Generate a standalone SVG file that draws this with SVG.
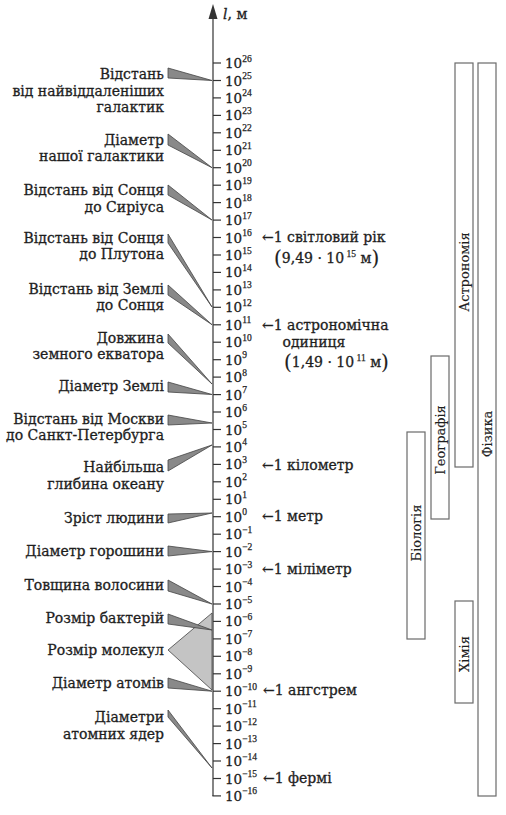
<svg xmlns="http://www.w3.org/2000/svg" width="506" height="815" viewBox="0 0 506 815">
<style>
text{font-family:"DejaVu Serif","Liberation Serif",serif;fill:#1e1e1e;stroke:#1e1e1e;stroke-width:0.3;font-size:14px}
.lb{text-anchor:end}
.t{font-size:13.5px}
.s{font-family:"Liberation Serif",serif;font-size:9.5px;stroke-width:0.25}
.w{fill:#898989;stroke:#444;stroke-width:0.8;stroke-linejoin:round}
.wl{fill:#c4c4c4;stroke:#444;stroke-width:0.8;stroke-linejoin:round}
.tk{stroke:#333;stroke-width:1.2}
.bar{fill:#fff;stroke:#6a6a6a;stroke-width:1.2}
.bt{font-size:13px;text-anchor:middle;stroke-width:0.15}
.par{font-size:20px;stroke-width:0.15}
</style>
<rect width="506" height="815" fill="#fff"/>
<g id="axis">
<line class="tk" x1="213" y1="17" x2="213" y2="796"/>
<polygon points="213,4 208.5,19 217.5,19" fill="#333"/>
<text x="223" y="19"><tspan font-style="italic">l</tspan>, м</text>
<g class="tk">
<line x1="213" y1="63" x2="221" y2="63"/><line x1="213" y1="80.5" x2="221" y2="80.5"/><line x1="213" y1="97.9" x2="221" y2="97.9"/><line x1="213" y1="115.4" x2="221" y2="115.4"/><line x1="213" y1="132.8" x2="221" y2="132.8"/><line x1="213" y1="150.3" x2="221" y2="150.3"/><line x1="213" y1="167.7" x2="221" y2="167.7"/><line x1="213" y1="185.2" x2="221" y2="185.2"/><line x1="213" y1="202.6" x2="221" y2="202.6"/><line x1="213" y1="220.1" x2="221" y2="220.1"/><line x1="213" y1="237.5" x2="221" y2="237.5"/><line x1="213" y1="255" x2="221" y2="255"/><line x1="213" y1="272.4" x2="221" y2="272.4"/><line x1="213" y1="289.9" x2="221" y2="289.9"/><line x1="213" y1="307.3" x2="221" y2="307.3"/><line x1="213" y1="324.8" x2="221" y2="324.8"/><line x1="213" y1="342.2" x2="221" y2="342.2"/><line x1="213" y1="359.7" x2="221" y2="359.7"/><line x1="213" y1="377.1" x2="221" y2="377.1"/><line x1="213" y1="394.6" x2="221" y2="394.6"/><line x1="213" y1="412" x2="221" y2="412"/><line x1="213" y1="429.5" x2="221" y2="429.5"/><line x1="213" y1="446.9" x2="221" y2="446.9"/><line x1="213" y1="464.4" x2="221" y2="464.4"/><line x1="213" y1="481.8" x2="221" y2="481.8"/><line x1="213" y1="499.3" x2="221" y2="499.3"/><line x1="213" y1="516.7" x2="221" y2="516.7"/><line x1="213" y1="534.2" x2="221" y2="534.2"/><line x1="213" y1="551.6" x2="221" y2="551.6"/><line x1="213" y1="569.1" x2="221" y2="569.1"/><line x1="213" y1="586.5" x2="221" y2="586.5"/><line x1="213" y1="604" x2="221" y2="604"/><line x1="213" y1="621.4" x2="221" y2="621.4"/><line x1="213" y1="638.9" x2="221" y2="638.9"/><line x1="213" y1="656.3" x2="221" y2="656.3"/><line x1="213" y1="673.8" x2="221" y2="673.8"/><line x1="213" y1="691.2" x2="221" y2="691.2"/><line x1="213" y1="708.7" x2="221" y2="708.7"/><line x1="213" y1="726.1" x2="221" y2="726.1"/><line x1="213" y1="743.6" x2="221" y2="743.6"/><line x1="213" y1="761" x2="221" y2="761"/><line x1="213" y1="778.5" x2="221" y2="778.5"/><line x1="212.4" y1="795.9" x2="221" y2="795.9"/>
</g>
<g id="tick-labels">
<text class="t" x="225" y="68">10<tspan class="s" dy="-6.5">26</tspan></text>
<text class="t" x="225" y="85.5">10<tspan class="s" dy="-6.5">25</tspan></text>
<text class="t" x="225" y="102.9">10<tspan class="s" dy="-6.5">24</tspan></text>
<text class="t" x="225" y="120.4">10<tspan class="s" dy="-6.5">23</tspan></text>
<text class="t" x="225" y="137.8">10<tspan class="s" dy="-6.5">22</tspan></text>
<text class="t" x="225" y="155.3">10<tspan class="s" dy="-6.5">21</tspan></text>
<text class="t" x="225" y="172.7">10<tspan class="s" dy="-6.5">20</tspan></text>
<text class="t" x="225" y="190.2">10<tspan class="s" dy="-6.5">19</tspan></text>
<text class="t" x="225" y="207.6">10<tspan class="s" dy="-6.5">18</tspan></text>
<text class="t" x="225" y="225.1">10<tspan class="s" dy="-6.5">17</tspan></text>
<text class="t" x="225" y="242.5">10<tspan class="s" dy="-6.5">16</tspan></text>
<text class="t" x="225" y="260">10<tspan class="s" dy="-6.5">15</tspan></text>
<text class="t" x="225" y="277.4">10<tspan class="s" dy="-6.5">14</tspan></text>
<text class="t" x="225" y="294.9">10<tspan class="s" dy="-6.5">13</tspan></text>
<text class="t" x="225" y="312.3">10<tspan class="s" dy="-6.5">12</tspan></text>
<text class="t" x="225" y="329.8">10<tspan class="s" dy="-6.5">11</tspan></text>
<text class="t" x="225" y="347.2">10<tspan class="s" dy="-6.5">10</tspan></text>
<text class="t" x="225" y="364.7">10<tspan class="s" dy="-6.5">9</tspan></text>
<text class="t" x="225" y="382.1">10<tspan class="s" dy="-6.5">8</tspan></text>
<text class="t" x="225" y="399.6">10<tspan class="s" dy="-6.5">7</tspan></text>
<text class="t" x="225" y="417">10<tspan class="s" dy="-6.5">6</tspan></text>
<text class="t" x="225" y="434.5">10<tspan class="s" dy="-6.5">5</tspan></text>
<text class="t" x="225" y="451.9">10<tspan class="s" dy="-6.5">4</tspan></text>
<text class="t" x="225" y="469.4">10<tspan class="s" dy="-6.5">3</tspan></text>
<text class="t" x="225" y="486.8">10<tspan class="s" dy="-6.5">2</tspan></text>
<text class="t" x="225" y="504.3">10<tspan class="s" dy="-6.5">1</tspan></text>
<text class="t" x="225" y="521.7">10<tspan class="s" dy="-6.5">0</tspan></text>
<text class="t" x="225" y="539.2">10<tspan class="s" dy="-6.5">−1</tspan></text>
<text class="t" x="225" y="556.6">10<tspan class="s" dy="-6.5">−2</tspan></text>
<text class="t" x="225" y="574.1">10<tspan class="s" dy="-6.5">−3</tspan></text>
<text class="t" x="225" y="591.5">10<tspan class="s" dy="-6.5">−4</tspan></text>
<text class="t" x="225" y="609">10<tspan class="s" dy="-6.5">−5</tspan></text>
<text class="t" x="225" y="626.4">10<tspan class="s" dy="-6.5">−6</tspan></text>
<text class="t" x="225" y="643.9">10<tspan class="s" dy="-6.5">−7</tspan></text>
<text class="t" x="225" y="661.3">10<tspan class="s" dy="-6.5">−8</tspan></text>
<text class="t" x="225" y="678.8">10<tspan class="s" dy="-6.5">−9</tspan></text>
<text class="t" x="225" y="696.2">10<tspan class="s" dy="-6.5">−10</tspan></text>
<text class="t" x="225" y="713.7">10<tspan class="s" dy="-6.5">−11</tspan></text>
<text class="t" x="225" y="731.1">10<tspan class="s" dy="-6.5">−12</tspan></text>
<text class="t" x="225" y="748.6">10<tspan class="s" dy="-6.5">−13</tspan></text>
<text class="t" x="225" y="766">10<tspan class="s" dy="-6.5">−14</tspan></text>
<text class="t" x="225" y="783.5">10<tspan class="s" dy="-6.5">−15</tspan></text>
<text class="t" x="225" y="800.9">10<tspan class="s" dy="-6.5">−16</tspan></text>
</g>
</g>
<g id="connectors">
<polygon class="w" points="168,68 212,80.5 168,78"/>
<polygon class="w" points="168,134 212,167.7 168,145"/>
<polygon class="w" points="168,185 212,220 168,195"/>
<polygon class="w" points="168,234 212,307 168,243"/>
<polygon class="w" points="168,285 212,324.7 168,295"/>
<polygon class="w" points="168,334 212,384 168,343"/>
<polygon class="w" points="168,382 212,394.5 168,392"/>
<polygon class="w" points="168,415 212,423 168,425"/>
<polygon class="w" points="168,460 212,445 168,471"/>
<polygon class="w" points="168,514 212,513 168,523"/>
<polygon class="w" points="168,546 212,551.6 168,556"/>
<polygon class="w" points="168,580 212,604 168,591"/>
<polygon class="wl" points="212,613 168,650 212,690"/>
<polygon class="w" points="168,614 212,630 168,624"/>
<polygon class="w" points="168,678 212,691.2 168,688"/>
<polygon class="w" points="168,710 212,768 168,717"/>
</g>
<g id="far-galaxies"><text class="lb" x="164" y="79">Відстань</text><text class="lb" x="164" y="96">від найвіддаленіших</text><text class="lb" x="164" y="112">галактик</text></g>
<g id="galaxy-diameter"><text class="lb" x="164" y="145">Діаметр</text><text class="lb" x="164" y="161">нашої галактики</text></g>
<g id="sun-sirius"><text class="lb" x="164" y="195">Відстань від Сонця</text><text class="lb" x="164" y="212">до Сиріуса</text></g>
<g id="sun-pluto"><text class="lb" x="164" y="243">Відстань від Сонця</text><text class="lb" x="164" y="259">до Плутона</text></g>
<g id="earth-sun"><text class="lb" x="164" y="294">Відстань від Землі</text><text class="lb" x="164" y="310">до Сонця</text></g>
<g id="equator"><text class="lb" x="164" y="343">Довжина</text><text class="lb" x="164" y="359">земного екватора</text></g>
<g id="earth-diameter"><text class="lb" x="164" y="391">Діаметр Землі</text></g>
<g id="moscow-spb"><text class="lb" x="164" y="424">Відстань від Москви</text><text class="lb" x="164" y="440">до Санкт-Петербурга</text></g>
<g id="ocean-depth"><text class="lb" x="164" y="472">Найбільша</text><text class="lb" x="164" y="489">глибина океану</text></g>
<g id="human-height"><text class="lb" x="164" y="523">Зріст людини</text></g>
<g id="pea"><text class="lb" x="164" y="556">Діаметр горошини</text></g>
<g id="hair"><text class="lb" x="164" y="590">Товщина волосини</text></g>
<g id="bacteria"><text class="lb" x="164" y="623">Розмір бактерій</text></g>
<g id="molecules"><text class="lb" x="164" y="655">Розмір молекул</text></g>
<g id="atoms"><text class="lb" x="164" y="688">Діаметр атомів</text></g>
<g id="nuclei"><text class="lb" x="164" y="722">Діаметри</text><text class="lb" x="164" y="739">атомних ядер</text></g>
<g id="light-year"><text x="262" y="242">←1 світловий рік</text><text x="274" y="263"><tspan class="par" dy="2">(</tspan><tspan dy="-2">9,49 · 10</tspan><tspan class="s" dy="-6.5"> 15</tspan><tspan dy="6.5"> м</tspan><tspan class="par" dy="2">)</tspan></text></g>
<g id="au"><text x="262" y="330">←1 астрономічна</text><text x="314" y="347" text-anchor="middle">одиниця</text><text x="284" y="367"><tspan class="par" dy="2">(</tspan><tspan dy="-2">1,49 · 10</tspan><tspan class="s" dy="-6.5"> 11</tspan><tspan dy="6.5"> м</tspan><tspan class="par" dy="2">)</tspan></text></g>
<g id="km"><text x="262" y="470">←1 кілометр</text></g>
<g id="m"><text x="262" y="521">←1 метр</text></g>
<g id="mm"><text x="262" y="574">←1 міліметр</text></g>
<g id="angstrom"><text x="263" y="695">←1 ангстрем</text></g>
<g id="fermi"><text x="263" y="783">←1 фермі</text></g>
<g id="astronomy"><rect class="bar" x="455" y="63" width="18" height="404"/><text class="bt" transform="translate(468.5,272) rotate(-90)">Астрономія</text></g>
<g id="physics"><rect class="bar" x="478" y="63" width="18" height="733"/><text class="bt" transform="translate(491.5,434) rotate(-90)">Фізика</text></g>
<g id="geography"><rect class="bar" x="431" y="356" width="18" height="163"/><text class="bt" transform="translate(444.5,440) rotate(-90)">Географія</text></g>
<g id="biology"><rect class="bar" x="407" y="432" width="18" height="207"/><text class="bt" transform="translate(420.5,533) rotate(-90)">Біологія</text></g>
<g id="chemistry"><rect class="bar" x="455" y="601" width="18" height="102"/><text class="bt" transform="translate(468.5,654) rotate(-90)">Хімія</text></g>
</svg>
